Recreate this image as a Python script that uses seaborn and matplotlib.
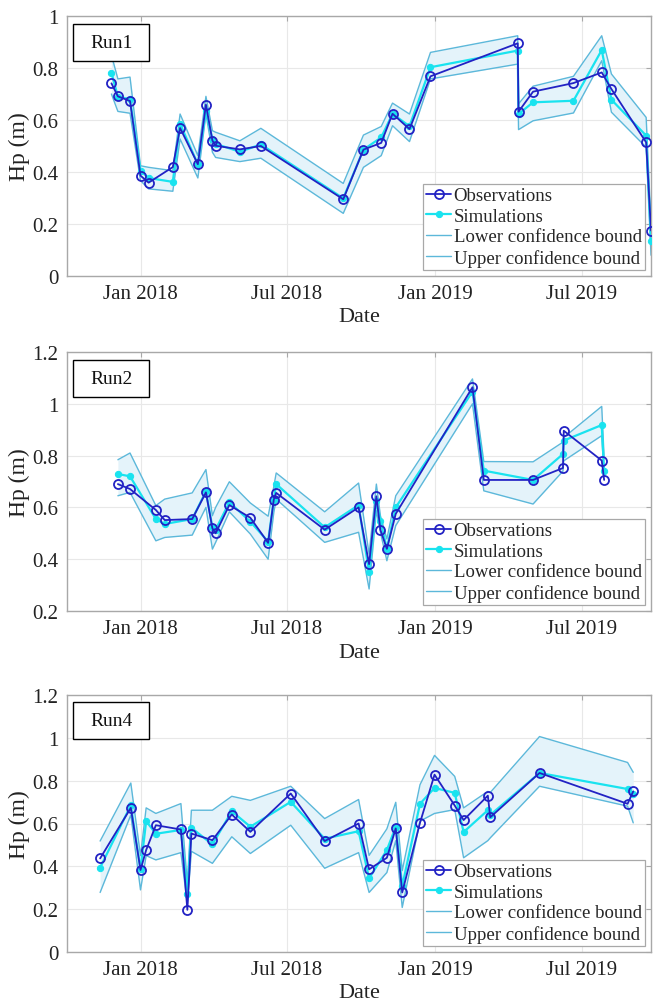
import matplotlib
matplotlib.use("Agg")
import matplotlib.pyplot as plt
import matplotlib.dates as mdates
from matplotlib.patches import Rectangle
from matplotlib.ticker import FuncFormatter, MultipleLocator
import pandas as pd
import seaborn as sns

# ---------------------------------------------------------------- data
run1_dates = ["2017-11-26", "2017-12-04", "2017-12-19", "2018-01-01", "2018-01-11",
              "2018-02-10", "2018-02-19", "2018-03-13", "2018-03-23", "2018-03-31",
              "2018-04-04", "2018-05-04", "2018-05-30", "2018-09-09", "2018-10-04",
              "2018-10-26", "2018-11-09", "2018-11-30", "2018-12-26", "2019-04-13",
              "2019-04-14", "2019-05-02", "2019-06-21", "2019-07-26", "2019-08-07",
              "2019-09-19", "2019-09-25"]
run1_obs = [0.741, 0.691, 0.673, 0.386, 0.359, 0.419, 0.569, 0.430, 0.659, 0.521,
            0.501, 0.487, 0.500, 0.295, 0.486, 0.512, 0.624, 0.565, 0.768, 0.895,
            0.632, 0.709, 0.742, 0.783, 0.719, 0.514, 0.175]
run1_sim = [0.781, 0.690, 0.680, 0.405, 0.377, 0.362, 0.585, 0.430, 0.636, 0.527,
            0.508, 0.478, 0.506, 0.299, 0.486, 0.533, 0.624, 0.576, 0.803, 0.867,
            0.623, 0.668, 0.674, 0.869, 0.678, 0.540, 0.135]
run1_lower = [0.700, 0.633, 0.626, 0.367, 0.335, 0.326, 0.527, 0.377, 0.623, 0.476,
              0.456, 0.440, 0.453, 0.241, 0.418, 0.463, 0.578, 0.517, 0.758, 0.815,
              0.563, 0.597, 0.627, 0.828, 0.630, 0.495, 0.080]
run1_upper = [0.850, 0.758, 0.765, 0.424, 0.418, 0.405, 0.623, 0.463, 0.691, 0.559,
              0.553, 0.520, 0.568, 0.356, 0.542, 0.575, 0.665, 0.623, 0.860, 0.924,
              0.662, 0.730, 0.768, 0.924, 0.777, 0.610, 0.200]

run2_dates = ["2017-12-04", "2017-12-19", "2018-01-20", "2018-01-31", "2018-03-06",
              "2018-03-23", "2018-03-31", "2018-04-04", "2018-04-21", "2018-05-17",
              "2018-06-08", "2018-06-15", "2018-06-18", "2018-08-17", "2018-09-28",
              "2018-10-11", "2018-10-20", "2018-10-25", "2018-11-02", "2018-11-13",
              "2019-02-16", "2019-03-02", "2019-05-02", "2019-06-08", "2019-06-09",
              "2019-07-26", "2019-07-29"]
run2_obs = [0.690, 0.671, 0.590, 0.551, 0.555, 0.658, 0.519, 0.500, 0.609, 0.560,
            0.463, 0.630, 0.656, 0.514, 0.600, 0.381, 0.643, 0.513, 0.440, 0.575,
            1.064, 0.706, 0.706, 0.752, 0.896, 0.781, 0.706]
run2_sim = [0.729, 0.720, 0.555, 0.536, 0.555, 0.662, 0.523, 0.514, 0.620, 0.545,
            0.468, 0.630, 0.690, 0.523, 0.609, 0.349, 0.626, 0.549, 0.440, 0.600,
            1.047, 0.742, 0.706, 0.806, 0.858, 0.918, 0.739]
run2_lower = [0.645, 0.658, 0.471, 0.484, 0.493, 0.600, 0.439, 0.465, 0.583, 0.497,
              0.400, 0.580, 0.632, 0.465, 0.504, 0.285, 0.587, 0.504, 0.394, 0.530,
              1.000, 0.664, 0.613, 0.740, 0.780, 0.877, 0.720]
run2_upper = [0.784, 0.810, 0.607, 0.632, 0.656, 0.746, 0.568, 0.600, 0.699, 0.617,
              0.566, 0.680, 0.733, 0.583, 0.694, 0.420, 0.690, 0.568, 0.478, 0.645,
              1.096, 0.777, 0.776, 0.852, 0.870, 0.990, 0.790]

run4_dates = ["2017-11-12", "2017-12-20", "2018-01-01", "2018-01-08", "2018-01-20",
              "2018-02-20", "2018-02-28", "2018-03-05", "2018-03-31", "2018-04-24",
              "2018-05-17", "2018-07-06", "2018-08-17", "2018-09-28", "2018-10-11",
              "2018-11-02", "2018-11-13", "2018-11-21", "2018-12-13", "2018-12-31",
              "2019-01-25", "2019-02-05", "2019-03-07", "2019-03-10", "2019-05-10",
              "2019-08-27", "2019-09-03"]
run4_obs = [0.437, 0.673, 0.383, 0.476, 0.592, 0.572, 0.197, 0.553, 0.522, 0.642,
            0.561, 0.740, 0.518, 0.600, 0.386, 0.440, 0.577, 0.278, 0.603, 0.828,
            0.684, 0.616, 0.730, 0.629, 0.836, 0.692, 0.750]
run4_sim = [0.394, 0.685, 0.386, 0.611, 0.552, 0.570, 0.270, 0.580, 0.502, 0.657,
            0.585, 0.701, 0.529, 0.564, 0.344, 0.476, 0.585, 0.308, 0.692, 0.766,
            0.743, 0.560, 0.662, 0.640, 0.836, 0.761, 0.740]
run4_lower = [0.278, 0.640, 0.290, 0.450, 0.430, 0.464, 0.225, 0.470, 0.414, 0.538,
              0.460, 0.592, 0.391, 0.464, 0.278, 0.371, 0.520, 0.208, 0.611, 0.647,
              0.665, 0.440, 0.520, 0.533, 0.774, 0.681, 0.603]
run4_upper = [0.518, 0.789, 0.450, 0.673, 0.647, 0.693, 0.320, 0.662, 0.662, 0.727,
              0.708, 0.774, 0.623, 0.712, 0.451, 0.575, 0.699, 0.380, 0.781, 0.918,
              0.820, 0.673, 0.750, 0.745, 1.006, 0.885, 0.839]

run_labels = ["Run1", "Run2", "Run4"]
y_limits = [(0.0, 1.0), (0.2, 1.2), (0.0, 1.2)]
x_limits = ("2017-10-02", "2019-09-25")
legend_labels = ["Observations", "Simulations",
                 "Lower confidence bound", "Upper confidence bound"]

# ---------------------------------------------------------------- style
OBS_COLOR = "#2222c4"
SIM_COLOR = "#19e3ef"
BOUND_COLOR = "#5cb8da"
FILL_COLOR = "#e4f3fa"
AXIS_GRAY = "#a8a8a8"

sns.set_theme(style="white")
plt.rcParams["font.family"] = ["Liberation Serif", "DejaVu Serif"]


def draw_panel(ax, dates, obs, sim, lower, upper, ylim, tag):
    df = pd.DataFrame({"date": pd.to_datetime(dates), "obs": obs, "sim": sim,
                       "lower": lower, "upper": upper})

    ax.fill_between(df["date"], df["lower"], df["upper"],
                    color=FILL_COLOR, lw=0, zorder=1)
    sns.lineplot(data=df, x="date", y="lower", ax=ax, estimator=None, sort=False,
                 color=BOUND_COLOR, lw=1.0, label=legend_labels[2], zorder=2)
    sns.lineplot(data=df, x="date", y="upper", ax=ax, estimator=None, sort=False,
                 color=BOUND_COLOR, lw=1.0, label=legend_labels[3], zorder=2)
    sns.lineplot(data=df, x="date", y="sim", ax=ax, estimator=None, sort=False,
                 color=SIM_COLOR, lw=1.6, marker="o", ms=4.5, mec=SIM_COLOR,
                 mfc=SIM_COLOR, label=legend_labels[1], zorder=3)
    sns.lineplot(data=df, x="date", y="obs", ax=ax, estimator=None, sort=False,
                 color=OBS_COLOR, lw=1.3, marker="o", ms=6.5, mec=OBS_COLOR,
                 mfc="none", mew=1.3, label=legend_labels[0], zorder=4)

    ax.set_xlim(pd.Timestamp(x_limits[0]), pd.Timestamp(x_limits[1]))
    ax.set_ylim(*ylim)
    ax.yaxis.set_major_locator(MultipleLocator(0.2))
    ax.yaxis.set_major_formatter(FuncFormatter(lambda v, _: f"{v:g}"))
    ax.xaxis.set_major_locator(mdates.MonthLocator(bymonth=[1, 7]))
    ax.xaxis.set_major_formatter(mdates.DateFormatter("%b %Y"))

    ax.grid(True, color="#e8e8e8", lw=0.8, zorder=0)
    for sp in ax.spines.values():
        sp.set_color(AXIS_GRAY)
        sp.set_linewidth(1.0)
    ax.tick_params(direction="in", top=True, right=True, length=3.5, width=0.8,
                   color=AXIS_GRAY, labelsize=15, pad=6, labelcolor="#222222")

    ax.set_xlabel("Date", fontsize=16, labelpad=3, color="#222222")
    ax.set_ylabel("Hp (m)", fontsize=17, labelpad=2, color="#222222")

    # run tag in a framed box
    ax.add_patch(Rectangle((0.011, 0.828), 0.130, 0.143, transform=ax.transAxes,
                           fc="white", ec="black", lw=1.0, zorder=6))
    ax.text(0.076, 0.899, tag, transform=ax.transAxes, ha="center", va="center",
            fontsize=14, color="#111111", zorder=7)

    handles, labels = ax.get_legend_handles_labels()
    order = [labels.index(name) for name in legend_labels]
    leg = ax.legend([handles[i] for i in order], [labels[i] for i in order],
                    loc="lower right", fontsize=13.5, frameon=True, fancybox=False,
                    edgecolor=AXIS_GRAY, framealpha=1, borderpad=0.2,
                    labelspacing=0.18, handlelength=1.3, handletextpad=0.15,
                    borderaxespad=0.3)
    leg.get_frame().set_linewidth(0.9)
    leg.set_zorder(8)


fig = plt.figure(figsize=(6.53, 10.04), dpi=100)
W, H = 653.0, 1004.0
panel_px = [(17, 277), (353, 612), (696, 953)]
left_px, right_px = 67, 651

runs = [
    (run1_dates, run1_obs, run1_sim, run1_lower, run1_upper),
    (run2_dates, run2_obs, run2_sim, run2_lower, run2_upper),
    (run4_dates, run4_obs, run4_sim, run4_lower, run4_upper),
]

for (top, bottom), series, ylim, tag in zip(panel_px, runs, y_limits, run_labels):
    ax = fig.add_axes([left_px / W, (H - bottom) / H,
                       (right_px - left_px) / W, (bottom - top) / H])
    draw_panel(ax, *series, ylim, tag)

fig.savefig("out.png", dpi=100)
